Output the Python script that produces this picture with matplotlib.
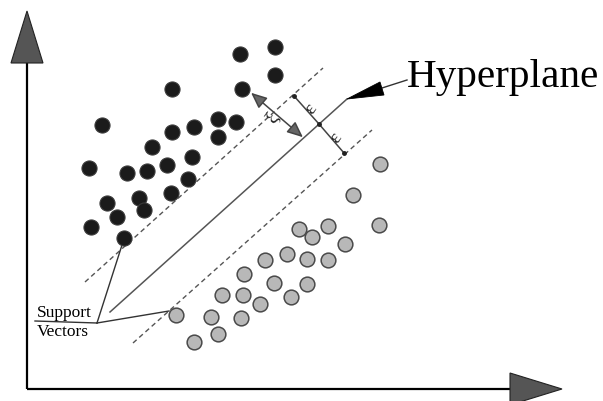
import matplotlib
matplotlib.use("Agg")
import matplotlib.pyplot as plt
from matplotlib.patches import Polygon, FancyArrowPatch

# ---- data (pixel coordinates of the diagram, y down) ----
class1_x = [240, 275, 275, 242, 172, 102, 218, 236, 218, 172, 194, 152, 192, 167,
            147, 127, 89, 188, 171, 139, 144, 107, 117, 91, 124]
class1_y = [54, 47, 75, 89, 89, 125, 119, 122, 137, 132, 127, 147, 157, 165,
            171, 173, 168, 179, 193, 198, 210, 203, 217, 227, 238]
class2_x = [380, 353, 379, 299, 312, 328, 345, 287, 307, 328, 265, 244, 274, 307,
            222, 243, 260, 291, 176, 211, 241, 218, 194]
class2_y = [164, 195, 225, 229, 237, 226, 244, 254, 259, 260, 260, 274, 283, 284,
            295, 295, 304, 297, 315, 317, 318, 334, 342]

hyperplane_x = [110, 347]
hyperplane_y = [312, 99]
margin_up_x = [85, 323]
margin_up_y = [282, 68]
margin_dn_x = [133, 372]
margin_dn_y = [343, 130]
eps_seg_x = [294, 319, 344]
eps_seg_y = [96, 124, 153]

W, H = 603, 401
fig = plt.figure(figsize=(W / 100, H / 100), dpi=100)
ax = fig.add_axes([0, 0, 1, 1])
ax.set_xlim(0, W)
ax.set_ylim(H, 0)
ax.axis("off")

serif = "Liberation Serif"
gray = "#555555"

# axes with arrowheads
ax.plot([27, 27], [62, 389], color="black", lw=1.6, solid_capstyle="butt", zorder=2)
ax.plot([27, 512], [389, 389], color="black", lw=1.6, solid_capstyle="butt", zorder=2)
ax.add_patch(Polygon([[11, 63], [43, 63], [27, 11]], closed=True,
                     facecolor="#555555", edgecolor="#222222", lw=0.8, zorder=3))
ax.add_patch(Polygon([[510, 373], [510, 405], [562, 389]], closed=True,
                     facecolor="#555555", edgecolor="#222222", lw=0.8, zorder=3))

# margins and hyperplane
ax.plot(margin_up_x, margin_up_y, color=gray, lw=1.0, ls=(0, (3.5, 2.5)), zorder=2)
ax.plot(margin_dn_x, margin_dn_y, color=gray, lw=1.0, ls=(0, (3.5, 2.5)), zorder=2)
ax.plot(hyperplane_x, hyperplane_y, color=gray, lw=1.1, zorder=2)

# epsilon segment
ax.plot(eps_seg_x, eps_seg_y, color="#444444", lw=1.1, zorder=3)
ax.plot(eps_seg_x, eps_seg_y, "o", color="#222222", ms=2.5, zorder=4)
ax.text(311, 109, "ε", fontsize=14, family=serif, rotation=55,
        ha="center", va="center", color="#222222", zorder=4)
ax.text(336, 138, "ε", fontsize=14, family=serif, rotation=55,
        ha="center", va="center", color="#222222", zorder=4)

# xi double arrow
ax.add_patch(FancyArrowPatch((249, 91), (305, 139), arrowstyle="<|-|>,head_length=8,head_width=3.5",
                             facecolor="#666666", edgecolor="#444444", lw=1.1,
                             mutation_scale=1.2, zorder=3))
ax.text(272, 118, "ξ", fontsize=14, family=serif, rotation=55,
        ha="center", va="center", color="#222222", zorder=4)

# hyperplane pointer
ax.add_patch(Polygon([[347, 99], [380, 82], [384, 95]], closed=True,
                     facecolor="black", edgecolor="black", lw=0.6, zorder=4))
ax.plot([382, 407], [88, 80], color="#333333", lw=1.0, zorder=3)
ax.text(407, 87, "Hyperplane", fontsize=29.7, family=serif, ha="left",
        va="baseline", color="black")

# points
ax.scatter(class1_x, class1_y, s=118, c="#1b1b1b", edgecolors="#3a3a3a",
           linewidths=0.8, zorder=5)
ax.scatter(class2_x, class2_y, s=112, c="#b8b8b8", edgecolors="#4a4a4a",
           linewidths=1.1, zorder=5)

# support vectors annotation
ax.plot([35, 97], [321, 323], color="#333333", lw=1.0, zorder=3)
ax.plot([97, 122], [323, 245], color="#333333", lw=1.0, zorder=3)
ax.plot([97, 169], [323, 311], color="#333333", lw=1.0, zorder=3)
ax.text(37, 317, "Support", fontsize=12.5, family=serif, ha="left",
        va="baseline", color="black")
ax.text(37, 336, "Vectors", fontsize=12.5, family=serif, ha="left",
        va="baseline", color="black")

fig.savefig("out.png", dpi=100)
